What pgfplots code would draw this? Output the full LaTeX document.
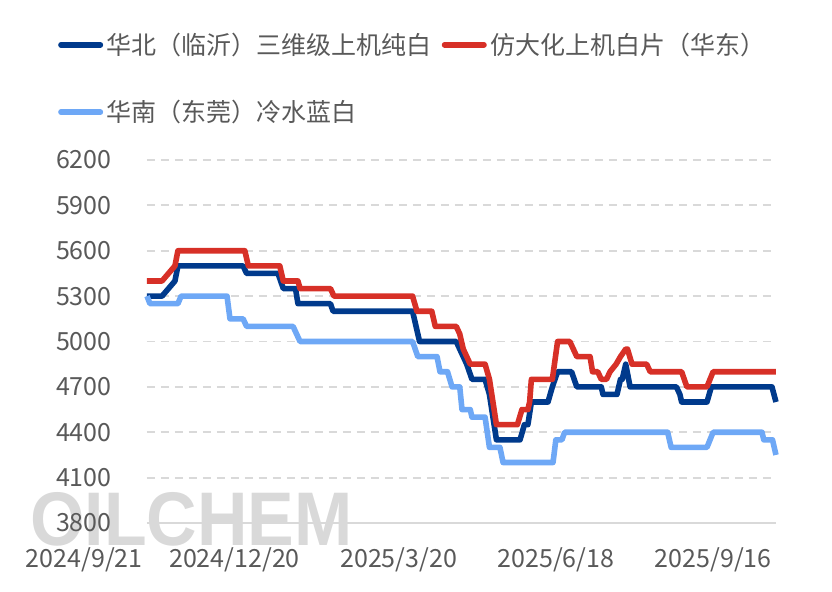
\documentclass[border=0pt]{standalone}
\usepackage{fontspec}
\setmainfont{Noto Sans CJK SC}
\newfontfamily\wmfont{Liberation Sans}[FakeStretch=0.92]
\usepackage{pgfplots}
\pgfplotsset{compat=1.18}
\definecolor{cA}{RGB}{0,58,140}
\definecolor{cB}{RGB}{215,48,39}
\definecolor{cC}{RGB}{110,168,246}
\definecolor{txt}{RGB}{89,89,89}
\definecolor{grd}{RGB}{217,217,217}
\begin{document}
\begin{tikzpicture}
\useasboundingbox (-73.5pt,-34pt) rectangle (342.5pt,261.5pt);
\node[anchor=base west, inner sep=0pt, text=black!15, font=\wmfont\bfseries\fontsize{38}{38}\selectfont] at (-58.5pt,-11pt) {OILCHEM};
\begin{axis}[
  at={(0,0)}, anchor=south west,
  scale only axis, width=314.5pt, height=181.5pt,
  xmin=0, xmax=360, ymin=3800, ymax=6200,
  ytick={3800,4100,...,6200},
  xtick={0,90,180,270,360},
  xticklabels={2024/9/21,2024/12/20,2025/3/20,2025/6/18,2025/9/16},
  axis x line*=bottom, axis y line*=left,
  x axis line style={grd, line width=1pt},
  y axis line style={draw=none},
  major tick length=0pt, tick style={draw=none},
  ymajorgrids, grid style={grd, dash pattern=on 4pt off 3pt, line width=0.9pt},
  tick label style={font=\fontsize{12.5}{12.5}\selectfont, text=txt},
  /pgf/number format/assume math mode=true, /pgf/number format/1000 sep={},
  yticklabel style={anchor=east, inner sep=0pt, xshift=-17.5pt},
  xticklabel style={anchor=north east, inner sep=0pt, xshift=-2pt, yshift=-12pt},
  clip=false,
  legend columns=2, legend cell align=left,
  legend style={draw=none, fill=none, inner sep=0pt, row sep=21.5pt,
    at={(-0.1463,1.2245)}, anchor=west,
    font=\fontsize{12.5}{15}\selectfont, text=txt,
    nodes={inner sep=0pt},
    /tikz/every odd column/.append style={column sep=0.5pt},
    /tikz/every even column/.append style={column sep=3.5pt}},
  legend image code/.code={\path (0pt,0pt) (22.5pt,0pt); \draw[line cap=round] (1.4pt,0pt) -- (21.1pt,0pt);},
  every axis plot/.append style={line width=2.8pt, line join=round}
]
\addplot[cA] coordinates {(0,5300)(8.6,5300)(16,5400)(17.7,5500)(55,5500)(57,5450)(75,5450)(78,5350)(85,5350)(86.4,5250)(105,5250)(106.5,5200)(152,5200)(154,5100)(156,5000)(177,5000)(179,4950)(183,4850)(186,4750)(193.5,4750)(196,4650)(200,4350)(213.5,4350)(216,4450)(218,4450)(220,4600)(229.5,4600)(232,4700)(235,4800)(243,4800)(246,4700)(260,4700)(261,4650)(269,4650)(271,4750)(272,4750)(274,4850)(276.5,4700)(303,4700)(305,4650)(306,4600)(320.5,4600)(323,4700)(357.7,4700)(360,4600)};
\addlegendentry{华北（临沂）三维级上机纯白}
\addplot[cB] coordinates {(0,5400)(8.6,5400)(16,5500)(17.7,5600)(56,5600)(58,5500)(76,5500)(78,5400)(86.4,5400)(87.6,5350)(105,5350)(107,5300)(152,5300)(154.5,5200)(163,5200)(165,5100)(177,5100)(179,5050)(181,4950)(185,4850)(193.5,4850)(196,4750)(200,4450)(212,4450)(214.6,4550)(218,4550)(219,4600)(220,4750)(232,4750)(235,5000)(242,5000)(244,4950)(246,4900)(253.6,4900)(255,4800)(258,4800)(260,4750)(263,4750)(265,4800)(268.5,4850)(271,4900)(274,4950)(275,4950)(277.6,4850)(286,4850)(288,4800)(306,4800)(307.5,4750)(309,4700)(320.5,4700)(324,4800)(360,4800)};
\addlegendentry{仿大化上机白片（华东）}
\addplot[cC] coordinates {(0,5300)(1.7,5250)(17.7,5250)(19.5,5300)(45.8,5300)(47.5,5150)(55,5150)(57,5100)(83.6,5100)(87.6,5000)(152,5000)(155,4900)(166,4900)(167.7,4800)(172,4800)(174.6,4700)(179,4700)(180.3,4550)(185,4550)(186,4500)(193.5,4500)(196,4300)(202,4300)(203.8,4200)(232.4,4200)(234,4350)(237.5,4350)(239,4400)(298,4400)(300,4300)(320.5,4300)(324,4400)(352,4400)(353,4350)(358,4350)(360,4250)};
\addlegendentry{华南（东莞）冷水蓝白}
\end{axis}
\end{tikzpicture}
\end{document}
